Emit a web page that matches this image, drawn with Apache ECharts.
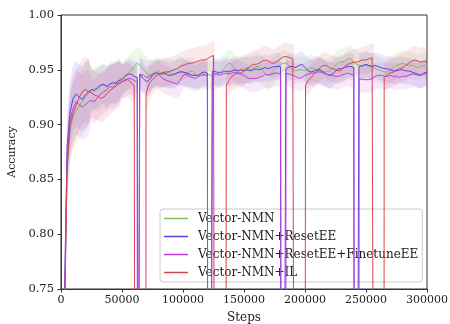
<!DOCTYPE html>
<html>
<head>
<meta charset="utf-8">
<script src="https://cdn.jsdelivr.net/npm/echarts@6/dist/echarts.min.js"></script>
<style>
  html, body { margin: 0; padding: 0; background: #fff; }
  #chart { width: 450px; height: 324px; }
</style>
</head>
<body>
<div id="chart"></div>
<script>
// Training steps at which accuracy was logged
const steps = [
  0, 2500, 5000, 7500, 10000, 12500, 15000, 17500, 20000, 22500,
  25000, 27500, 30000, 32500, 35000, 37500, 40000, 42500, 45000, 47500,
  50000, 52500, 55000, 57500, 60000, 62500, 65000, 67500, 70000, 72500,
  75000, 77500, 80000, 82500, 85000, 87500, 90000, 92500, 95000, 97500,
  100000, 102500, 105000, 107500, 110000, 112500, 115000, 117500, 120000, 122500,
  125000, 127500, 130000, 132500, 135000, 137500, 140000, 142500, 145000, 147500,
  150000, 152500, 155000, 157500, 160000, 162500, 165000, 167500, 170000, 172500,
  175000, 177500, 180000, 182500, 185000, 187500, 190000, 192500, 195000, 197500,
  200000, 202500, 205000, 207500, 210000, 212500, 215000, 217500, 220000, 222500,
  225000, 227500, 230000, 232500, 235000, 237500, 240000, 242500, 245000, 247500,
  250000, 252500, 255000, 257500, 260000, 262500, 265000, 267500, 270000, 272500,
  275000, 277500, 280000, 282500, 285000, 287500, 290000, 292500, 295000, 297500,
  300000
];

// Mean accuracy of each run (0.40 = collapsed, off the axis)
const nmnAcc = [
  0.55, 0.71, 0.86, 0.895, 0.908, 0.912, 0.917, 0.921, 0.925, 0.928,
  0.931, 0.933, 0.932, 0.935, 0.936, 0.934, 0.937, 0.939, 0.938, 0.941,
  0.942, 0.944, 0.947, 0.950, 0.953, 0.956, 0.954, 0.951, 0.947, 0.945,
  0.946, 0.948, 0.949, 0.947, 0.946, 0.948, 0.947, 0.945, 0.947, 0.949,
  0.948, 0.947, 0.948, 0.949, 0.946, 0.944, 0.945, 0.945, 0.946, 0.945,
  0.944, 0.946, 0.948, 0.950, 0.953, 0.956, 0.955, 0.951, 0.949, 0.950,
  0.951, 0.952, 0.950, 0.951, 0.953, 0.953, 0.950, 0.946, 0.945, 0.947,
  0.950, 0.953, 0.955, 0.956, 0.956, 0.953, 0.950, 0.949, 0.950, 0.950,
  0.949, 0.951, 0.952, 0.951, 0.950, 0.949, 0.948, 0.948, 0.949, 0.951,
  0.954, 0.957, 0.957, 0.958, 0.960, 0.960, 0.957, 0.955, 0.954, 0.953,
  0.954, 0.953, 0.953, 0.951, 0.950, 0.949, 0.948, 0.948, 0.950, 0.952,
  0.954, 0.955, 0.956, 0.955, 0.954, 0.954, 0.953, 0.952, 0.953, 0.954,
  0.953
];
const resetAcc = [
  0.55, 0.72, 0.88, 0.912, 0.924, 0.928, 0.925, 0.923, 0.927, 0.930,
  0.932, 0.931, 0.934, 0.936, 0.937, 0.935, 0.937, 0.938, 0.938, 0.940,
  0.941, 0.944, 0.946, 0.946, 0.944, 0.943, 0.946, 0.942, 0.939, 0.941,
  0.945, 0.947, 0.947, 0.946, 0.947, 0.945, 0.945, 0.946, 0.947, 0.948,
  0.948, 0.947, 0.946, 0.945, 0.945, 0.945, 0.947, 0.948, 0.947, 0.40,
  0.949, 0.948, 0.947, 0.948, 0.949, 0.948, 0.949, 0.950, 0.949, 0.950,
  0.949, 0.950, 0.949, 0.950, 0.951, 0.950, 0.951, 0.952, 0.951, 0.952,
  0.953, 0.953, 0.953, 0.40, 0.951, 0.953, 0.953, 0.952, 0.954, 0.955,
  0.952, 0.949, 0.948, 0.949, 0.950, 0.950, 0.948, 0.946, 0.945, 0.946,
  0.949, 0.951, 0.951, 0.952, 0.953, 0.953, 0.952, 0.40, 0.953, 0.954,
  0.955, 0.954, 0.953, 0.954, 0.953, 0.952, 0.951, 0.951, 0.950, 0.949,
  0.949, 0.950, 0.950, 0.949, 0.949, 0.948, 0.947, 0.946, 0.945, 0.947,
  0.948
];
const finetuneAcc = [
  0.55, 0.70, 0.87, 0.905, 0.915, 0.921, 0.918, 0.916, 0.918, 0.921,
  0.922, 0.921, 0.925, 0.928, 0.930, 0.932, 0.935, 0.934, 0.937, 0.938,
  0.939, 0.940, 0.942, 0.942, 0.940, 0.939, 0.946, 0.945, 0.943, 0.944,
  0.946, 0.947, 0.946, 0.943, 0.941, 0.940, 0.939, 0.938, 0.937, 0.940,
  0.945, 0.946, 0.944, 0.943, 0.942, 0.944, 0.945, 0.946, 0.944, 0.40,
  0.947, 0.946, 0.945, 0.946, 0.947, 0.946, 0.947, 0.948, 0.947, 0.946,
  0.945, 0.943, 0.942, 0.942, 0.942, 0.943, 0.944, 0.946, 0.945, 0.946,
  0.947, 0.947, 0.946, 0.40, 0.947, 0.946, 0.945, 0.944, 0.942, 0.943,
  0.945, 0.946, 0.947, 0.947, 0.948, 0.948, 0.947, 0.946, 0.945, 0.945,
  0.944, 0.944, 0.945, 0.946, 0.947, 0.946, 0.945, 0.40, 0.942, 0.941,
  0.941, 0.941, 0.942, 0.944, 0.945, 0.945, 0.944, 0.944, 0.945, 0.944,
  0.944, 0.943, 0.944, 0.944, 0.945, 0.946, 0.946, 0.945, 0.945, 0.946,
  0.947
];
const ilAcc = [
  0.55, 0.69, 0.86, 0.900, 0.910, 0.918, 0.925, 0.930, 0.932, 0.930,
  0.929, 0.927, 0.926, 0.924, 0.925, 0.928, 0.931, 0.933, 0.935, 0.937,
  0.939, 0.941, 0.941, 0.938, 0.936, 0.40, 0.40, 0.40, 0.930, 0.938,
  0.941, 0.944, 0.946, 0.947, 0.948, 0.948, 0.949, 0.950, 0.951, 0.953,
  0.954, 0.955, 0.956, 0.956, 0.957, 0.958, 0.959, 0.959, 0.960, 0.962,
  0.963, 0.40, 0.40, 0.40, 0.40, 0.940, 0.944, 0.946, 0.947, 0.947,
  0.949, 0.951, 0.953, 0.955, 0.955, 0.956, 0.958, 0.959, 0.958, 0.956,
  0.956, 0.958, 0.960, 0.962, 0.962, 0.961, 0.960, 0.40, 0.40, 0.40,
  0.40, 0.940, 0.943, 0.946, 0.949, 0.952, 0.954, 0.954, 0.952, 0.951,
  0.950, 0.949, 0.950, 0.953, 0.955, 0.956, 0.957, 0.957, 0.958, 0.959,
  0.959, 0.960, 0.961, 0.40, 0.40, 0.40, 0.944, 0.946, 0.947, 0.948,
  0.950, 0.951, 0.952, 0.954, 0.956, 0.958, 0.959, 0.958, 0.957, 0.958,
  0.957
];

// Extra samples around each collapse, where the curve falls and recovers
const nmnDrops = [];
const resetDrops = [
  [62600, 0.943], [62800, 0.40], [64300, 0.40], [64500, 0.946],
  [120100, 0.947], [120300, 0.40], [123800, 0.40], [124000, 0.949],
  [180200, 0.953], [180400, 0.40], [184100, 0.40], [184300, 0.951],
  [240300, 0.952], [240500, 0.40], [244000, 0.40], [244200, 0.953]
];
const finetuneDrops = [
  [62700, 0.939], [62900, 0.40], [64400, 0.40], [64600, 0.946],
  [120200, 0.944], [120400, 0.40], [123900, 0.40], [124100, 0.947],
  [180400, 0.946], [180600, 0.40], [184200, 0.40], [184400, 0.947],
  [240500, 0.945], [240700, 0.40], [244200, 0.40], [244400, 0.942]
];
const ilDrops = [
  [60700, 0.936], [60900, 0.40], [69500, 0.40], [69700, 0.925],
  [125900, 0.963], [126100, 0.40], [135300, 0.40], [135500, 0.936],
  [191200, 0.960], [191400, 0.40], [200200, 0.40], [200400, 0.936],
  [256500, 0.961], [256700, 0.40], [264700, 0.40], [264900, 0.943]
];

// Spread (one standard deviation) of each run, per 25k-step segment
const bandSteps = [0, 25000, 50000, 75000, 100000, 125000, 150000, 175000, 200000, 225000, 250000, 275000, 300000];
const nmnSpread      = [0.030, 0.020, 0.015, 0.013, 0.013, 0.013, 0.013, 0.012, 0.012, 0.012, 0.012, 0.012, 0.012];
const resetSpread    = [0.030, 0.018, 0.014, 0.012, 0.012, 0.012, 0.012, 0.012, 0.012, 0.012, 0.012, 0.012, 0.012];
const finetuneSpread = [0.030, 0.020, 0.015, 0.013, 0.012, 0.012, 0.012, 0.012, 0.012, 0.012, 0.012, 0.012, 0.012];
const ilSpread       = [0.030, 0.022, 0.016, 0.013, 0.013, 0.013, 0.013, 0.013, 0.012, 0.012, 0.013, 0.013, 0.013];

const runNames = ['Vector-NMN', 'Vector-NMN+ResetEE', 'Vector-NMN+ResetEE+FinetuneEE', 'Vector-NMN+IL'];
const yTicks = [0.75, 0.80, 0.85, 0.90, 0.95, 1.00];
const xTicks = [0, 50000, 100000, 150000, 200000, 250000, 300000];

const runs = [
  { name: runNames[0], acc: nmnAcc, drops: nmnDrops, spread: nmnSpread, color: '#7dbf5c' },
  { name: runNames[1], acc: resetAcc, drops: resetDrops, spread: resetSpread, color: '#5a3fe3' },
  { name: runNames[2], acc: finetuneAcc, drops: finetuneDrops, spread: finetuneSpread, color: '#bd3ed8' },
  { name: runNames[3], acc: ilAcc, drops: ilDrops, spread: ilSpread, color: '#d9434f' }
];

function samples(run) {
  const pts = steps.map((s, i) => [s, run.acc[i]]).concat(run.drops);
  pts.sort((a, b) => a[0] - b[0]);
  return pts;
}
function spreadAt(step, spread) {
  let k = 0;
  for (let i = 0; i < bandSteps.length; i++) if (bandSteps[i] <= step) k = i;
  return spread[k];
}
const yMin = yTicks[0], yMax = yTicks[yTicks.length - 1];
const clampY = v => Math.max(yMin, Math.min(yMax, v));

const FONT = 'DejaVu Serif';
const bandSeries = [];
const lineSeries = [];
runs.forEach((run, r) => {
  const pts = samples(run);
  // shaded mean ± spread region, drawn as one polygon through the axis scales
  bandSeries.push({
    type: 'custom', name: run.name + ' band', silent: true, z: 1, clip: true,
    data: [[pts[0][0], pts[0][1]]],
    encode: { x: 0, y: 1 },
    renderItem: function (params, api) {
      const upper = pts.map(p => api.coord([p[0], clampY(p[1] + spreadAt(p[0], run.spread))]));
      const lower = pts.map(p => api.coord([p[0], clampY(p[1] - spreadAt(p[0], run.spread))])).reverse();
      return {
        type: 'polygon',
        shape: { points: upper.concat(lower) },
        style: { fill: run.color, opacity: 0.12 }
      };
    }
  });
  lineSeries.push({
    type: 'line', name: run.name, symbol: 'none', z: 3 + r,
    color: run.color,
    lineStyle: { color: run.color, width: 1 },
    data: pts
  });
});

const chart = echarts.init(document.getElementById('chart'), null, { renderer: 'canvas' });
chart.setOption({
  animation: false,
  backgroundColor: '#fff',
  grid: {
    left: 61, right: 23, top: 15, bottom: 35, outerBoundsMode: 'none', containLabel: false,
    show: true, borderColor: '#333', borderWidth: 1, backgroundColor: 'transparent'
  },
  xAxis: {
    type: 'value', min: xTicks[0], max: xTicks[xTicks.length - 1], interval: 50000,
    name: 'Steps', nameLocation: 'middle', nameGap: 23,
    nameTextStyle: { fontFamily: FONT, fontSize: 12, color: '#222' },
    axisLine: { show: true, lineStyle: { color: '#333', width: 1 } },
    axisTick: { show: true, inside: false, length: 3.5, lineStyle: { color: '#333' } },
    axisLabel: { fontFamily: FONT, fontSize: 11, color: '#222', margin: 6, formatter: v => String(v) },
    splitLine: { show: false }
  },
  yAxis: {
    type: 'value', min: yMin, max: yMax, interval: 0.05,
    name: 'Accuracy', nameLocation: 'middle', nameGap: 41,
    nameTextStyle: { fontFamily: FONT, fontSize: 11, color: '#222' },
    axisLine: { show: true, lineStyle: { color: '#333', width: 1 } },
    axisTick: { show: true, inside: false, length: 3.5, lineStyle: { color: '#333' } },
    axisLabel: { fontFamily: FONT, fontSize: 11.5, color: '#222', margin: 7, formatter: v => v.toFixed(2) },
    splitLine: { show: false }
  },
  legend: {
    data: runNames,
    orient: 'vertical', left: 160, top: 209,
    padding: [3, 4, 3, 4],
    itemWidth: 24, itemHeight: 1.5, itemGap: 5,
    icon: 'rect',
    backgroundColor: 'rgba(255,255,255,0.8)',
    borderColor: '#ccc', borderWidth: 1, borderRadius: 3,
    textStyle: { fontFamily: FONT, fontSize: 12, lineHeight: 13, color: '#222', padding: [0, 0, 0, 5] }
  },
  series: bandSeries.concat(lineSeries)
});
</script>
</body>
</html>
